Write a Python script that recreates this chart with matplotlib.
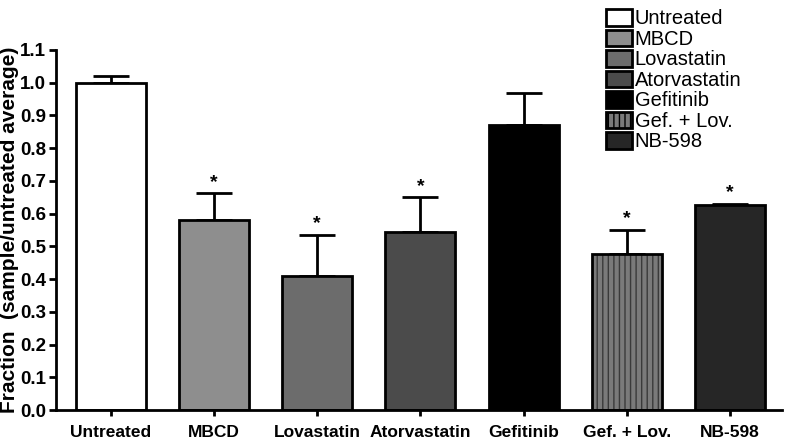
import matplotlib.pyplot as plt
from matplotlib.patches import Patch

plt.rcParams['font.family'] = ['Liberation Sans', 'DejaVu Sans']

labels = ['Untreated', 'MBCD', 'Lovastatin', 'Atorvastatin', 'Gefitinib', 'Gef. + Lov.', 'NB-598']
means = [1.0, 0.58, 0.41, 0.545, 0.87, 0.478, 0.625]
errs = [0.02, 0.082, 0.125, 0.105, 0.10, 0.072, 0.006]
signif = [False, True, True, True, False, True, True]
colors = ['white', '#8e8e8e', '#6c6c6c', '#4b4b4b', 'black', '#7a7a7a', '#262626']

fig = plt.figure(figsize=(7.88, 4.42), dpi=100)
ax = fig.add_axes([0.071, 0.072, 0.921, 0.815])

x = list(range(len(labels)))
for i in x:
    hatch = '|||' if labels[i] == 'Gef. + Lov.' else None
    ax.bar(i, means[i], width=0.68, color=colors[i], hatch=hatch,
           edgecolor='#3a3a3a' if hatch else 'black', linewidth=0 if hatch else 2, zorder=2)
    if hatch:
        ax.bar(i, means[i], width=0.68, fill=False, edgecolor='black', linewidth=2, zorder=3)
    ax.errorbar(i, means[i], yerr=[[0], [errs[i]]], fmt='none', ecolor='black',
                elinewidth=2, capsize=13, capthick=2, zorder=1)
    if signif[i]:
        ax.text(i, means[i] + errs[i] + 0.008, '*', ha='center', va='bottom',
                fontsize=14, fontweight='bold')

ax.set_xlim(-0.53, 6.5)
ax.set_ylim(0, 1.1)
ax.set_yticks([i / 10 for i in range(12)])
ax.set_yticklabels(['%.1f' % (i / 10) for i in range(12)], fontsize=13.5, fontweight='bold')
ax.set_xticks(x)
ax.set_xticklabels(labels, fontsize=12.5, fontweight='bold')
ax.set_ylabel('Fraction  (sample/untreated average)', fontsize=15, fontweight='bold', labelpad=1)
for s in ['top', 'right']:
    ax.spines[s].set_visible(False)
for s in ['left', 'bottom']:
    ax.spines[s].set_linewidth(2)
ax.tick_params(axis='y', width=2, length=5, pad=2)
ax.tick_params(axis='x', width=2, length=4, pad=7)

handles = []
for i in x:
    hatch = '|||' if labels[i] == 'Gef. + Lov.' else None
    handles.append(Patch(facecolor=colors[i], edgecolor='black', linewidth=2, hatch=hatch, label=labels[i]))
fig.legend(handles=handles, loc='upper left', bbox_to_anchor=(0.757, 1.0), frameon=False,
           fontsize=14.5, handlelength=1.3, handleheight=0.9, handletextpad=0.15,
           labelspacing=0.06, borderaxespad=0.05)

fig.savefig('out.png', dpi=100)
